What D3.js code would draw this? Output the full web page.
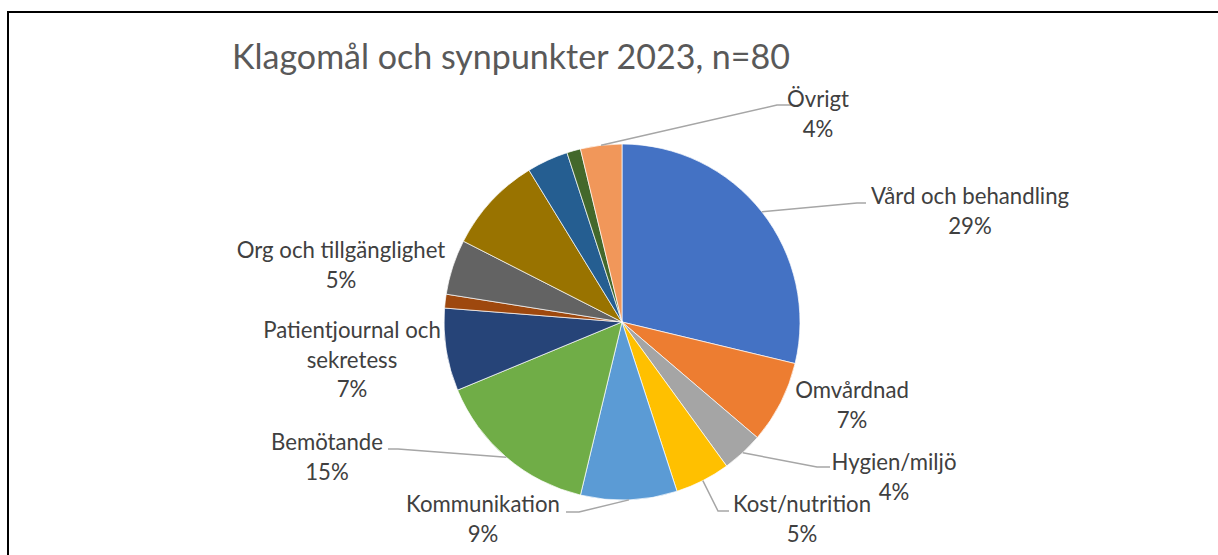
<!DOCTYPE html>
<html>
<head>
<meta charset="utf-8">
<script src="https://cdn.jsdelivr.net/npm/d3@7"></script>
<style>
  html, body { margin: 0; padding: 0; background: #fff; }
  svg { display: block; }
  text { font-family: "Lato", "Noto Sans", sans-serif; }
</style>
</head>
<body>
<svg id="chart" width="1218" height="555"></svg>
<script>
// ---- data (counts, n = 80) ----
const categories = [
  "Vård och behandling", "Omvårdnad", "Hygien/miljö", "Kost/nutrition",
  "Kommunikation", "Bemötande", "Patientjournal och sekretess", "Läkemedel",
  "Org och tillgänglighet", "Ekonomi", "Information", "Intyg", "Övrigt"
];
const counts = [23, 6, 3, 4, 7, 12, 6, 1, 4, 7, 3, 1, 3];
const percentLabels = ["29%", "7%", "4%", "5%", "9%", "15%", "7%", "1%", "5%", "9%", "4%", "1%", "4%"];
const colors = ["#4472C4", "#ED7D31", "#A5A5A5", "#FFC000", "#5B9BD5", "#70AD47",
                "#264478", "#9E480E", "#636363", "#997300", "#255E91", "#43682B", "#F1975A"];
const title = "Klagomål och synpunkter 2023, n=80";

// ---- layout (label placement; null = no visible label) ----
const labelLayout = [
  { x: 970, y: 204, lines: ["Vård och behandling"], elbow: [857, 203], end: [866, 203] },
  { x: 852, y: 398, lines: ["Omvårdnad"], elbow: null },
  { x: 894, y: 470, lines: ["Hygien/miljö"], elbow: [817, 467], end: [830, 467] },
  { x: 802, y: 512, lines: ["Kost/nutrition"], elbow: [718, 511], end: [729, 511] },
  { x: 483, y: 512, lines: ["Kommunikation"], elbow: [579, 512], end: [566, 512] },
  { x: 327, y: 450, lines: ["Bemötande"], elbow: [398, 449], end: [388, 449] },
  { x: 352, y: 338, lines: ["Patientjournal och", "sekretess"], elbow: null },
  null,
  { x: 341, y: 258, lines: ["Org och tillgänglighet"], elbow: null },
  null,
  null,
  null,
  { x: 818, y: 107, lines: ["Övrigt"], elbow: [777, 105], end: [791, 105] }
];

const W = 1218, H = 555;
const cx = 622, cy = 322, R = 178;
const lineH = 29.5;

const svg = d3.select("#chart");

// border (runs off right and bottom edges as in the reference)
svg.append("rect")
  .attr("x", 8).attr("y", 12)
  .attr("width", W + 20).attr("height", H + 20)
  .attr("fill", "none").attr("stroke", "#000").attr("stroke-width", 2);

// title
svg.append("text")
  .attr("x", 232).attr("y", 69)
  .attr("fill", "#595959")
  .attr("font-size", 34)
  .text(title);

const pie = d3.pie().sort(null).value(d => d);
const arcs = pie(counts);
const arc = d3.arc().innerRadius(0).outerRadius(R);

const g = svg.append("g").attr("transform", `translate(${cx},${cy})`);

g.selectAll("path.slice")
  .data(arcs)
  .join("path")
  .attr("class", "slice")
  .attr("d", arc)
  .attr("fill", (d, i) => colors[i])
  .attr("stroke", "#fff")
  .attr("stroke-width", 0.7);

// leader lines
arcs.forEach((d, i) => {
  const L = labelLayout[i];
  if (!L || !L.elbow) return;
  const a = (d.startAngle + d.endAngle) / 2;
  const sx = cx + R * Math.sin(a), sy = cy - R * Math.cos(a);
  svg.append("polyline")
    .attr("points", [[sx, sy], L.elbow, L.end].map(p => p.join(",")).join(" "))
    .attr("fill", "none")
    .attr("stroke", "#A6A6A6")
    .attr("stroke-width", 1.5);
});

// labels
arcs.forEach((d, i) => {
  const L = labelLayout[i];
  if (!L) return;
  const t = svg.append("text")
    .attr("text-anchor", "middle")
    .attr("fill", "#404040")
    .attr("font-size", 22.2);
  const lines = L.lines.concat([percentLabels[i]]);
  lines.forEach((s, k) => {
    t.append("tspan").attr("x", L.x).attr("y", L.y + k * lineH).text(s);
  });
});
</script>
</body>
</html>
